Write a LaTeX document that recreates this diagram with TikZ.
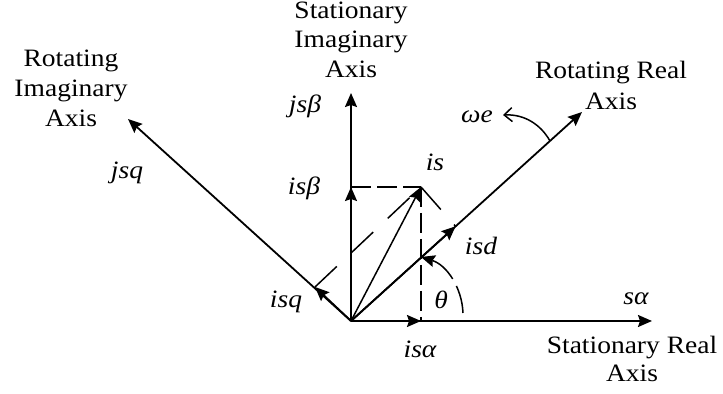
\documentclass[tikz,border=0pt]{standalone}
\usepackage{fontspec}
\setmainfont{Liberation Serif}[FakeStretch=1.1]
\usetikzlibrary{arrows.meta}
\tikzset{
  axisline/.style={line width=0.9pt},
  vecline/.style={line width=0.75pt},
  tip/.style={-{Stealth[length=7pt,width=6pt,inset=1pt]}},
  opentip/.style={-{Straight Barb[length=4pt,width=7pt]}},
  rectdash/.style={line width=0.75pt,dash pattern=on 10pt off 3pt},
  projdash/.style={line width=0.75pt,dash pattern=on 15pt off 10pt},
  arcdash/.style={line width=0.75pt,dash pattern=on 14pt off 4pt},
  lbl/.style={font=\fontsize{12.5}{15}\selectfont\itshape,inner sep=0pt},
  txt/.style={font=\fontsize{12.5}{15}\selectfont,inner sep=0pt,anchor=base},
}
\begin{document}
\begin{tikzpicture}[x=0.5pt,y=-0.5pt]
\useasboundingbox (0,0) rectangle (723,394);
% points
\coordinate (O) at (351,321);
\coordinate (A) at (652,321);
\coordinate (B) at (351,93);
\coordinate (D) at (582,112);
\coordinate (Q) at (128,119);
\coordinate (IS) at (421,187);
\coordinate (ISB) at (351,187);
\coordinate (ISA) at (421,321);
\coordinate (ISD) at (455.6,226.3);
\coordinate (ISQ) at (315,287);
\coordinate (DX) at (421,257);
\coordinate (T0) at (463,313);
\coordinate (W0) at (550,141);
\coordinate (W1) at (503,115);
% dashed projections
\draw[rectdash] (ISB) -- (IS);
\draw[rectdash] (IS) -- (ISA);
\draw[projdash] (ISQ) -- (IS);
\draw[projdash] (IS) -- (ISD);
% axes
\draw[axisline,tip] (O) -- (A);
\draw[axisline,tip] (O) -- (B);
\draw[axisline,tip] (O) -- (D);
\draw[axisline,tip] (O) -- (Q);
% component arrows
\draw[axisline,tip] (O) -- (ISA);
\draw[axisline,tip] (O) -- (ISB);
\draw[axisline,tip] (O) -- (ISD);
\draw[axisline,tip] (O) -- (ISQ);
\draw[vecline,tip] (O) -- (IS);
% angles
\draw[arcdash,tip] (T0) .. controls (462,288) and (447,265) .. (DX);
\draw[vecline,opentip] (W0) .. controls (541,125) and (525,114) .. (W1);
% labels
\node[lbl] (ljsb) at (305,106) {jsβ};
\node[lbl] (ljsq) at (127,173) {jsq};
\node[lbl] (lisb) at (304,188) {isβ};
\node[lbl] (lis) at (435,162) {is};
\node[lbl] (lisd) at (481,246) {isd};
\node[lbl] (lisq) at (286,302) {isq};
\node[lbl] (lisa) at (420,349) {isα};
\node[lbl] (lth) at (441,300) {θ};
\node[lbl] (lsa) at (636,299) {sα};
\node[lbl] (lwe) at (477,117) {ωe};
% axis names
\node[txt] (si1) at (351,19) {Stationary};
\node[txt] (si2) at (351,48) {Imaginary};
\node[txt] (si3) at (351,78) {Axis};
\node[txt] (ri1) at (71,67) {Rotating};
\node[txt] (ri2) at (71,97) {Imaginary};
\node[txt] (ri3) at (71,127) {Axis};
\node[txt] (rr1) at (611,79) {Rotating Real};
\node[txt] (rr2) at (611,110) {Axis};
\node[txt] (sr1) at (632,354) {Stationary Real};
\node[txt] (sr2) at (632,382) {Axis};
\end{tikzpicture}
\end{document}
